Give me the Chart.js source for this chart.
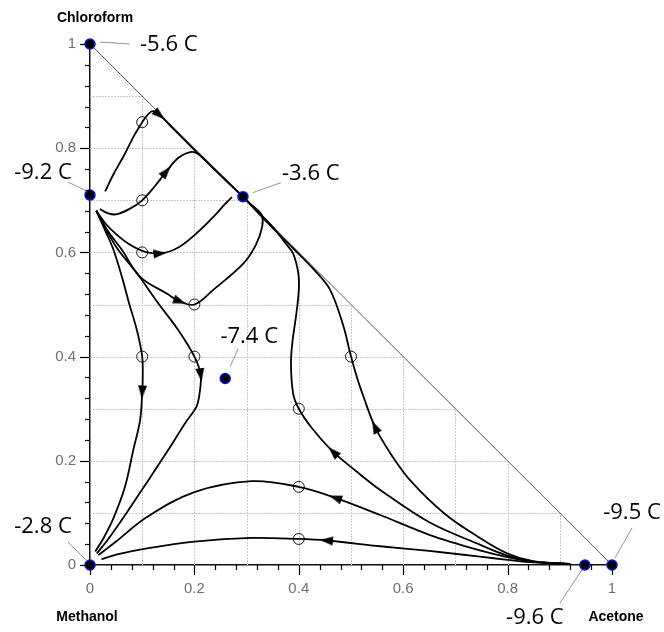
<!DOCTYPE html>
<html><head><meta charset="utf-8">
<script src="https://cdn.jsdelivr.net/npm/chart.js@4/dist/chart.umd.min.js"></script>
<style>html,body{margin:0;padding:0;background:#fff}canvas{display:block}</style>
</head><body>
<canvas id="c" width="664" height="632"></canvas>
<script>
// ---------- data ----------
const xTickLabels = ['0','0.2','0.4','0.6','0.8','1'];
const yTickLabels = ['0','0.2','0.4','0.6','0.8','1'];
const axisNames = ['Methanol','Acetone','Chloroform'];
const gridValues = [0.1,0.2,0.3,0.4,0.5,0.6,0.7,0.8,0.9];

const azeoX = [0, 0, 0.293, 0.259, 0, 1, 0.948];
const azeoY = [1, 0.71, 0.707, 0.358, 0, 0, 0];
const azeoLabels = ['-5.6 C','-9.2 C','-3.6 C','-7.4 C','-2.8 C','-9.5 C','-9.6 C'];

const curveA = [[0.029,0.717],[0.045,0.75],[0.064,0.784],[0.085,0.825],[0.1,0.85],[0.112,0.866],[0.121,0.871],[0.133,0.864],[0.16,0.837],[0.2,0.797],[0.25,0.748],[0.293,0.707]];
const curveB = [[0.019,0.683],[0.035,0.675],[0.05,0.673],[0.075,0.683],[0.1,0.70],[0.125,0.728],[0.146,0.755],[0.17,0.782],[0.195,0.793],[0.21,0.787],[0.225,0.773],[0.26,0.739],[0.293,0.707]];
const curveC = [[0.012,0.68],[0.03,0.655],[0.05,0.635],[0.073,0.617],[0.1,0.603],[0.134,0.598],[0.17,0.61],[0.211,0.643],[0.24,0.672],[0.258,0.692],[0.272,0.706]];
const curveD = [[0.012,0.68],[0.035,0.64],[0.061,0.605],[0.096,0.553],[0.147,0.521],[0.172,0.506],[0.2,0.5],[0.236,0.528],[0.294,0.579],[0.318,0.615],[0.33,0.65],[0.329,0.672],[0.318,0.684],[0.305,0.695],[0.293,0.707]];
const curveE = [[0.012,0.68],[0.03,0.64],[0.045,0.605],[0.062,0.55],[0.075,0.502],[0.09,0.45],[0.1,0.4],[0.101,0.36],[0.1,0.332],[0.096,0.278],[0.083,0.221],[0.067,0.15],[0.045,0.09],[0.025,0.05],[0.01,0.026]];
const curveF = [[0.012,0.68],[0.03,0.645],[0.054,0.605],[0.09,0.56],[0.131,0.502],[0.169,0.451],[0.2,0.4],[0.212,0.365],[0.21,0.33],[0.204,0.304],[0.184,0.275],[0.15,0.221],[0.11,0.16],[0.07,0.1],[0.035,0.05],[0.013,0.022]];
const curveG = [[0.92,0.002],[0.85,0.006],[0.8,0.015],[0.747,0.028],[0.65,0.058],[0.556,0.096],[0.47,0.129],[0.4,0.15],[0.31,0.161],[0.2,0.14],[0.109,0.092],[0.05,0.045],[0.016,0.019]];
const curveH = [[0.92,0.002],[0.85,0.005],[0.8,0.01],[0.747,0.016],[0.65,0.027],[0.556,0.036],[0.453,0.047],[0.4,0.05],[0.31,0.052],[0.2,0.045],[0.109,0.032],[0.05,0.02],[0.022,0.011]];
const curveI = [[0.92,0.002],[0.85,0.007],[0.8,0.018],[0.747,0.039],[0.65,0.082],[0.556,0.144],[0.51,0.18],[0.466,0.217],[0.425,0.263],[0.4,0.3],[0.389,0.33],[0.385,0.388],[0.388,0.43],[0.395,0.48],[0.4,0.528],[0.399,0.56],[0.389,0.598],[0.375,0.617],[0.35,0.649],[0.32,0.68],[0.293,0.707]];
const curveJ = [[0.92,0.002],[0.85,0.007],[0.8,0.022],[0.747,0.052],[0.68,0.098],[0.613,0.163],[0.575,0.215],[0.546,0.265],[0.525,0.32],[0.513,0.355],[0.5,0.4],[0.485,0.46],[0.46,0.528],[0.43,0.566],[0.39,0.607],[0.34,0.657],[0.293,0.707]];
const curves = [curveA, curveB, curveC, curveD, curveE, curveF, curveG, curveH, curveI, curveJ];

const circleX = [0.1, 0.1, 0.1, 0.2, 0.1, 0.2, 0.5, 0.4, 0.4, 0.4];
const circleY = [0.85, 0.7, 0.6, 0.5, 0.4, 0.4, 0.4, 0.3, 0.15, 0.05];

const arrowCurve = [0, 1, 2, 3, 4, 5, 6, 7, 8, 9];
const arrowX = [0.133, 0.146, 0.134, 0.172, 0.1, 0.212, 0.47, 0.453, 0.466, 0.546];
const arrowY = [0.864, 0.755, 0.598, 0.506, 0.332, 0.365, 0.129, 0.047, 0.217, 0.265];

// ---------- styling / layout ----------
const labelLayout = [
  {l:[10,-2,40,0],  t:[50,1,'left']},
  {l:[-22,-13,-3,-4], t:[-47,-22,'center']},
  {l:[10,-4,38,-14], t:[39,-23,'left']},
  {l:[5,-12,13,-30], t:[24,-42,'center']},
  {l:[-22,-23,-4,-5], t:[-47,-38,'center']},
  {l:[3,-7,20,-37], t:[20,-52,'center']},
  {l:[-3,5,-25,38], t:[-50,53,'center']}
];

function makeArrow(){
  const c = document.createElement('canvas'); c.width = 9; c.height = 13;
  const g = c.getContext('2d'); g.fillStyle = '#000';
  g.beginPath(); g.moveTo(4.5,0); g.lineTo(9,13); g.lineTo(0,13); g.closePath(); g.fill();
  return c;
}
const arrowImg = makeArrow();

function arrowRotation(ctx){
  const i = ctx.dataIndex;
  const curve = curves[arrowCurve[i]];
  const sx = ctx.chart.scales.x, sy = ctx.chart.scales.y;
  let best = 1, bd = Infinity;
  for (let j = 1; j < curve.length - 1; j++) {
    const d = (curve[j][0]-arrowX[i])**2 + (curve[j][1]-arrowY[i])**2;
    if (d < bd) { bd = d; best = j; }
  }
  const p = curve[best-1], n = curve[best+1];
  const dx = sx.getPixelForValue(n[0]) - sx.getPixelForValue(p[0]);
  const dy = sy.getPixelForValue(n[1]) - sy.getPixelForValue(p[1]);
  return Math.atan2(dx, -dy) * 180 / Math.PI;
}

const toPts = arr => arr.map(p => ({x:p[0], y:p[1]}));

const datasets = [];
datasets.push({
  data: azeoX.map((x,i)=>({x, y:azeoY[i]})),
  pointRadius: 5, pointBackgroundColor: '#000', pointBorderColor: '#1010e0', pointBorderWidth: 1.5,
  showLine: false, clip: false, order: 0
});
datasets.push({
  data: circleX.map((x,i)=>({x, y:circleY[i]})),
  pointRadius: 5.5, pointBackgroundColor: 'rgba(0,0,0,0)', pointBorderColor: '#000', pointBorderWidth: 0.9,
  showLine: false, clip: false, order: 1
});
datasets.push({
  data: arrowX.map((x,i)=>({x, y:arrowY[i]})),
  pointStyle: arrowImg, pointRotation: arrowRotation, pointRadius: 6,
  showLine: false, clip: false, order: 2
});
curves.forEach(c => datasets.push({
  data: toPts(c), showLine: true, borderColor: '#000', borderWidth: 1.8, tension: 0.35,
  pointRadius: 0, clip: false, order: 3
}));
datasets.push({
  data: [{x:0,y:1},{x:1,y:0}], showLine: true, borderColor: '#555', borderWidth: 1,
  pointRadius: 0, clip: false, order: 4
});

const triPlugin = {
  id: 'tri',
  beforeDatasetsDraw(chart){
    const {ctx, scales:{x, y}} = chart;
    ctx.save();
    ctx.strokeStyle = '#c8c8c8'; ctx.lineWidth = 1; ctx.setLineDash([2,1]);
    gridValues.forEach(k => {
      const py = Math.round(y.getPixelForValue(k)) + 0.5;
      const px = Math.round(x.getPixelForValue(k)) + 0.5;
      ctx.beginPath(); ctx.moveTo(x.getPixelForValue(0), py); ctx.lineTo(x.getPixelForValue(1-k), py); ctx.stroke();
      ctx.beginPath(); ctx.moveTo(px, y.getPixelForValue(0)); ctx.lineTo(px, y.getPixelForValue(1-k)); ctx.stroke();
    });
    ctx.restore();
  },
  afterDraw(chart){
    const {ctx, scales:{x, y}, chartArea:a} = chart;
    ctx.save();
    // tick marks
    ctx.strokeStyle = '#000'; ctx.lineWidth = 1.2;
    for (let i = 0; i <= 25; i++) {
      const v = i * 0.04, len = (i % 5 === 0) ? 10 : 5;
      const px = Math.round(x.getPixelForValue(v)) + 0.5;
      const py = Math.round(y.getPixelForValue(v)) + 0.5;
      ctx.beginPath(); ctx.moveTo(px, a.bottom); ctx.lineTo(px, a.bottom + len); ctx.stroke();
      ctx.beginPath(); ctx.moveTo(a.left - len, py); ctx.lineTo(a.left, py); ctx.stroke();
    }
    // axis names
    ctx.fillStyle = '#000'; ctx.font = 'bold 14px "Liberation Sans", Arial, sans-serif';
    ctx.textAlign = 'center'; ctx.textBaseline = 'middle';
    ctx.fillText(axisNames[2], a.left + 5, a.top - 26);
    ctx.fillText(axisNames[0], a.left - 3, a.bottom + 52);
    ctx.fillText(axisNames[1], a.right + 4, a.bottom + 52);
    // azeotrope labels
    ctx.font = '22px "Open Sans", sans-serif';
    azeoLabels.forEach((t, i) => {
      const px = x.getPixelForValue(azeoX[i]), py = y.getPixelForValue(azeoY[i]);
      const L = labelLayout[i];
      ctx.strokeStyle = '#777'; ctx.lineWidth = 0.8;
      ctx.beginPath(); ctx.moveTo(px + L.l[0], py + L.l[1]); ctx.lineTo(px + L.l[2], py + L.l[3]); ctx.stroke();
      ctx.textAlign = L.t[2];
      ctx.fillText(t, px + L.t[0], py + L.t[1]);
    });
    ctx.restore();
  }
};

new Chart(document.getElementById('c'), {
  type: 'scatter',
  data: { datasets },
  options: {
    responsive: false, animation: false,
    layout: { padding: { left: 0, top: 44, right: 52, bottom: 0 } },
    plugins: { legend: { display: false }, tooltip: { enabled: false } },
    scales: {
      x: {
        type: 'linear', min: 0, max: 1,
        afterFit(s){ s.height = 67; },
        grid: { display: false, drawTicks: false },
        border: { display: true, color: '#111', width: 1.5 },
        ticks: { stepSize: 0.2, padding: 15, color: '#707070', font: { family: '"Liberation Sans", Arial', size: 15 },
                 callback: (v, i) => xTickLabels[i] }
      },
      y: {
        type: 'linear', min: 0, max: 1,
        afterFit(s){ s.width = 90; },
        grid: { display: false, drawTicks: false },
        border: { display: true, color: '#111', width: 1.5 },
        ticks: { stepSize: 0.2, padding: 14, color: '#707070', font: { family: '"Liberation Sans", Arial', size: 15 },
                 callback: (v, i) => yTickLabels[i] }
      }
    }
  },
  plugins: [triPlugin]
});
</script>
</body></html>
